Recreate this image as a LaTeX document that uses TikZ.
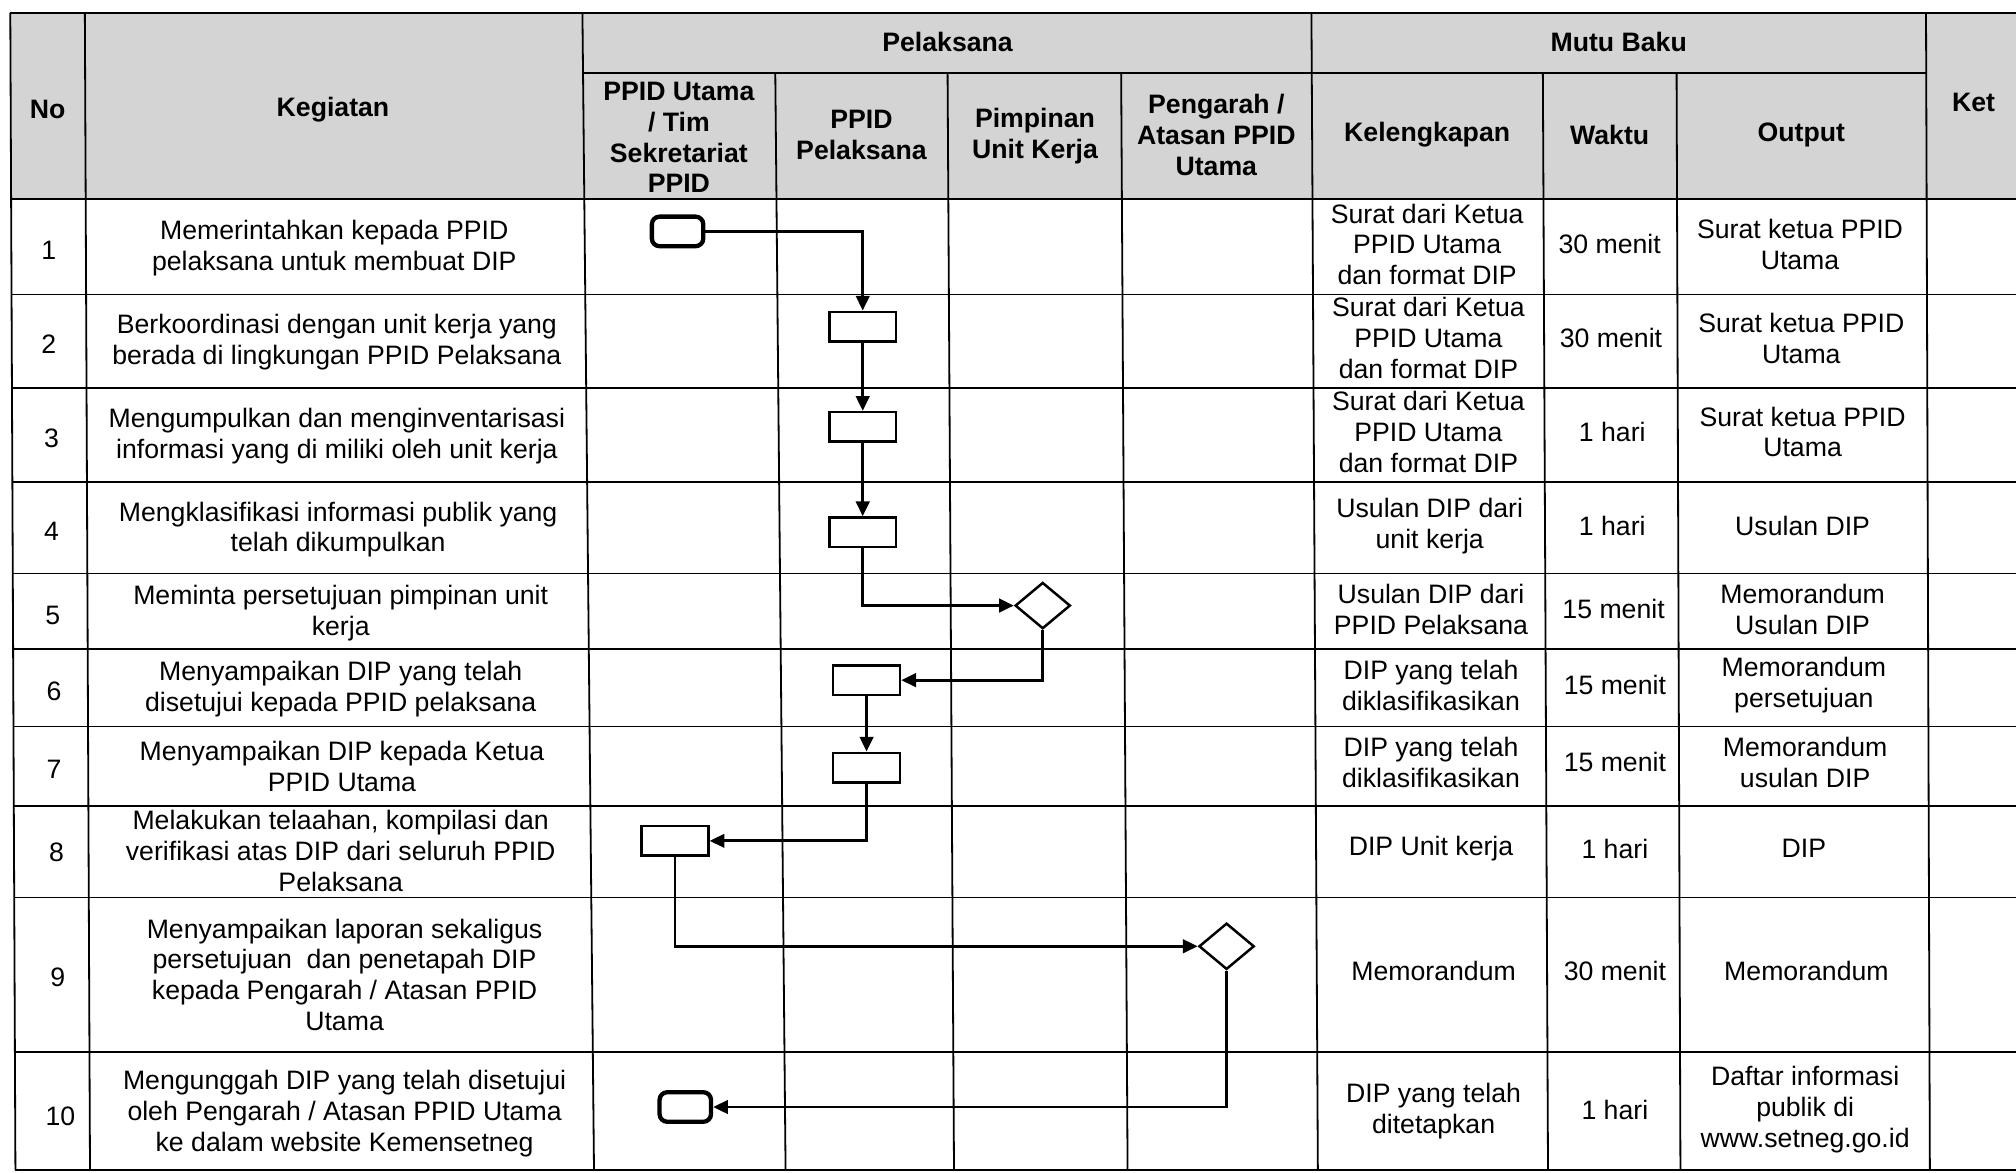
\documentclass[tikz,border=0pt]{standalone}
\usepackage{fontspec}
\setmainfont{Liberation Sans}
\usetikzlibrary{arrows.meta,shapes.geometric}
\definecolor{hdr}{RGB}{212,212,212}
\begin{document}
\begin{tikzpicture}[x=0.02cm,y=-0.02cm,
  txt/.style={align=center,inner sep=0pt,font=\fontsize{11.8}{13.6}\selectfont},
  hd/.style={align=center,inner sep=0pt,font=\fontsize{11.8}{13.6}\selectfont\bfseries},
  gridline/.style={line width=0.8pt},
  proc/.style={draw,line width=1.1pt,minimum width=1.04cm,minimum height=0.46cm,inner sep=0pt},
  term/.style={draw,line width=1.9pt,rounded corners=1.2mm,minimum width=0.8cm,minimum height=0.46cm,inner sep=0pt},
  dec/.style={draw,diamond,line width=1.1pt,minimum width=0.86cm,minimum height=0.72cm,inner sep=0pt},
  flow/.style={line width=1.25pt,-{Triangle[length=2.3mm,width=2.1mm]}}
]
\useasboundingbox (0,0) rectangle (1568,912);
\fill[white] (0,0) rectangle (1568,912);
% header shading
\fill[hdr] (8,10) rectangle (1568,155);
% horizontal lines
\draw[gridline] (8,10) -- (1568,10);
\draw[gridline] (453,57) -- (1499,57);
\foreach \y in {155,229,302,375,446,505,565,627,698,818,910}{
  \pgfmathsetmacro\xl{8+4*(\y-10)/900}
  \draw[gridline] (\xl,\y) -- (1568,\y);
}
% vertical lines
\foreach \a/\b in {8/12,66/70,453/462,1020/1025,1498/1501}
  \draw[gridline] (\a,10) -- (\b,910);
\foreach \a/\b in {603/611,737/742,872/877,1200/1204,1304/1307}
  \draw[gridline] (\a,57) -- (\b,910);

% header texts
\node[hd] (hNo) at (37,85) {No};
\node[hd] (hKeg) at (259,85) {Kegiatan};
\node[hd] (hPel) at (737,33) {Pelaksana};
\node[hd] (hMB) at (1259,33) {Mutu Baku};
\node[hd] (hKet) at (1535,80) {Ket};
\node[hd] (hP1) at (528,107) {PPID Utama\\/ Tim\\Sekretariat\\PPID};
\node[hd] (hP2) at (670,105) {PPID\\Pelaksana};
\node[hd] (hP3) at (805,106) {Pimpinan\\Unit Kerja};
\node[hd] (hP4) at (946,105) {Pengarah /\\Atasan PPID\\Utama};
\node[hd] (hKel) at (1110,105) {Kelengkapan};
\node[hd] (hW) at (1252,105) {Waktu};
\node[hd] (hO) at (1401,105) {Output};

% row 1
\node[txt] (n1) at (38,195) {1};
\node[txt] (k1) at (260,193) {Memerintahkan kepada PPID\\pelaksana untuk membuat DIP};
\node[txt] (l1) at (1110,190) {Surat dari Ketua\\PPID Utama\\dan format DIP};
\node[txt] (w1) at (1252,190) {30 menit};
\node[txt] (o1) at (1400,190) {Surat ketua PPID\\Utama};
% row 2
\node[txt] (n2) at (38,268) {2};
\node[txt] (k2) at (262,266) {Berkoordinasi dengan unit kerja yang\\berada di lingkungan PPID Pelaksana};
\node[txt] (l2) at (1111,263) {Surat dari Ketua\\PPID Utama\\dan format DIP};
\node[txt] (w2) at (1253,263) {30 menit};
\node[txt] (o2) at (1401,263) {Surat ketua PPID\\Utama};
% row 3
\node[txt] (n3) at (40,341) {3};
\node[txt] (k3) at (262,339) {Mengumpulkan dan menginventarisasi\\informasi yang di miliki oleh unit kerja};
\node[txt] (l3) at (1111,336) {Surat dari Ketua\\PPID Utama\\dan format DIP};
\node[txt] (w3) at (1254,336) {1 hari};
\node[txt] (o3) at (1402,336) {Surat ketua PPID\\Utama};
% row 4
\node[txt] (n4) at (40,413) {4};
\node[txt] (k4) at (263,412) {Mengklasifikasi informasi publik yang\\telah dikumpulkan};
\node[txt] (l4) at (1112,409) {Usulan DIP dari\\unit kerja};
\node[txt] (w4) at (1254,409) {1 hari};
\node[txt] (o4) at (1402,409) {Usulan DIP};
% row 5
\node[txt] (n5) at (41,479) {5};
\node[txt] (k5) at (265,477) {Meminta persetujuan pimpinan unit\\kerja};
\node[txt] (l5) at (1113,474) {Usulan DIP dari\\PPID Pelaksana};
\node[txt] (w5) at (1255,474) {15 menit};
\node[txt] (o5) at (1402,474) {Memorandum\\Usulan DIP};
% row 6
\node[txt] (n6) at (42,538) {6};
\node[txt] (k6) at (265,536) {Menyampaikan DIP yang telah\\disetujui kepada PPID pelaksana};
\node[txt] (l6) at (1113,533) {DIP yang telah\\diklasifikasikan};
\node[txt] (w6) at (1256,533) {15 menit};
\node[txt] (o6) at (1403,533) {Memorandum\\persetujuan};
% row 7
\node[txt] (n7) at (42,598) {7};
\node[txt] (k7) at (266,596) {Menyampaikan DIP kepada Ketua\\PPID Utama};
\node[txt] (l7) at (1113,593) {DIP yang telah\\diklasifikasikan};
\node[txt] (w7) at (1256,593) {15 menit};
\node[txt] (o7) at (1404,593) {Memorandum\\usulan DIP};
% row 8
\node[txt] (n8) at (44,663) {8};
\node[txt] (k8) at (265,662) {Melakukan telaahan, kompilasi dan\\verifikasi atas DIP dari seluruh PPID\\Pelaksana};
\node[txt] (l8) at (1113,660) {DIP Unit kerja};
\node[txt] (w8) at (1256,660) {1 hari};
\node[txt] (o8) at (1403,660) {DIP};
% row 9
\node[txt] (n9) at (45,760) {9};
\node[txt] (k9) at (268,758) {Menyampaikan laporan sekaligus\\persetujuan\ \ dan penetapah DIP\\kepada Pengarah / Atasan PPID\\Utama};
\node[txt] (l9) at (1115,755) {Memorandum};
\node[txt] (w9) at (1256,755) {30 menit};
\node[txt] (o9) at (1405,755) {Memorandum};
% row 10
\node[txt] (n10) at (47,868) {10};
\node[txt] (k10) at (268,866) {Mengunggah DIP yang telah disetujui\\oleh Pengarah / Atasan PPID Utama\\ke dalam website Kemensetneg};
\node[txt] (l10) at (1115,864) {DIP yang telah\\ditetapkan};
\node[txt] (w10) at (1256,863) {1 hari};
\node[txt] (o10) at (1404,863) {Daftar informasi\\publik di\\www.setneg.go.id};

% flow shapes
\node[term] (t1) at (527,180) {};
\node[proc] (b2) at (671,254) {};
\node[proc] (b3) at (671,332) {};
\node[proc] (b4) at (671,414) {};
\node[dec] (d5) at (811,471) {};
\node[proc] (b6) at (674,529) {};
\node[proc] (b7) at (674,597) {};
\node[proc] (b8) at (525,654) {};
\node[dec] (d9) at (954,736) {};
\node[term] (t10) at (533,861) {};

% connectors
\draw[flow] (t1.east) -| (b2.north);
\draw[flow] (b2) -- (b3);
\draw[flow] (b3) -- (b4);
\draw[flow] (b4.south) |- (d5.west);
\draw[flow] (d5.south) |- (b6.east);
\draw[flow] (b6) -- (b7);
\draw[flow] (b7.south) |- (b8.east);
\draw[flow] (b8.south) |- (d9.west);
\draw[flow] (d9.south) |- (t10.east);
\end{tikzpicture}
\end{document}
